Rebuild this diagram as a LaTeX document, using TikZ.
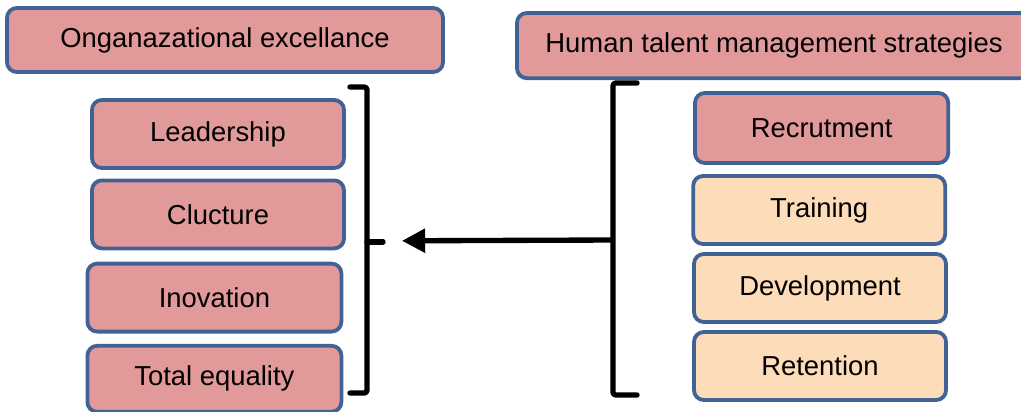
\documentclass[tikz,border=0pt]{standalone}
\usepackage{fontspec}
\setmainfont{Liberation Sans}
\usepackage{xcolor}
\usepackage{tikz}
\usetikzlibrary{arrows.meta, positioning, calc}
\definecolor{boxblue}{RGB}{64, 98, 148}
\definecolor{boxpink}{RGB}{225, 154, 153}
\definecolor{boxpeach}{RGB}{253, 220, 185}
\tikzstyle{factor} = [
    rectangle, 
    rounded corners=7pt, 
    minimum width=6.3cm, 
    minimum height=1.7cm, 
    text centered, 
    draw=boxblue, 
    line width=2.7pt,
    fill=boxpink,
    font=\fontsize{19.5}{23}\selectfont
]
\tikzstyle{title} = [
    factor,
    minimum height=1.6cm
]
\tikzstyle{strategy} = [
    factor,
    fill=boxpeach
]
\tikzstyle{bracket} = [
    line width=3.8pt, 
    line cap=round,
    line join=round,
    rounded corners=2pt,
    color=black
]
\tikzstyle{arrow} = [
    line width=3.8pt, 
    -{Triangle[length=0.58cm, width=0.58cm]}, 
    color=black
]

\begin{document}
\begin{tikzpicture}
        \useasboundingbox (0,0) rectangle (25.525,-10.275);
        % Titles
        \node[title, minimum width=10.9cm] (org) at (5.625, -1.0) {Onganazational excellance};
        \node[title, minimum width=12.85cm, minimum height=1.63cm] (hr) at (19.35, -1.14) {Human talent management strategies};
        
        % Left column
        \node[factor] (lead) at (5.45, -3.35) {Leadership};
        \node[factor] (cult) at (5.45, -5.36) {Clucture};
        \node[factor, minimum width=6.35cm] (inno) at (5.36, -7.44) {Inovation};
        \node[factor, minimum width=6.35cm, minimum height=1.65cm] (qual) at (5.36, -9.47) {Total equality};
        
        % Right column
        \node[factor, minimum width=6.33cm, minimum height=1.75cm] (recr) at (20.54, -3.2) {Recrutment};
        \node[strategy] (train) at (20.48, -5.25) {Training};
        \node[strategy] (devel) at (20.5, -7.2) {Development};
        \node[strategy] (reten) at (20.5, -9.15) {Retention};
        
        % Brackets
        \coordinate (lbtop) at (8.75, -2.175);
        \coordinate (lbbot) at (8.75, -9.825);
        \coordinate (lbmid) at (9.175, -6.05);
        \coordinate (lbtip) at (9.575, -6.05);
        \draw[bracket] (lbtop) -| (lbmid) |- (lbbot);
        \draw[bracket] (lbmid) -- (lbtip);
        
        \coordinate (rbtop) at (15.925, -2.075);
        \coordinate (rbbot) at (15.925, -9.875);
        \coordinate (rbmid) at (15.325, -6.0);
        \draw[bracket] (rbtop) -| (rbmid) |- (rbbot);
        
        % Flow arrow
        \coordinate (target) at (10.05, -6.02);
        \draw[arrow] (rbmid) -- (target);
    \end{tikzpicture}
\end{document}
